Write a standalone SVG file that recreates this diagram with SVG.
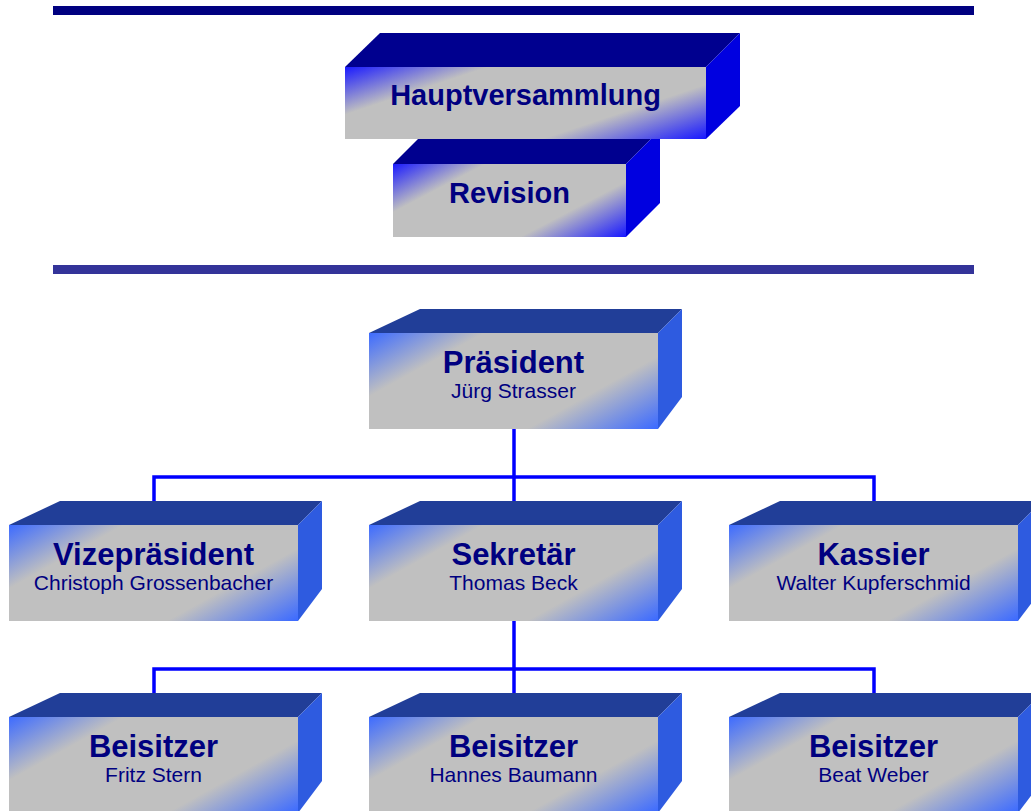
<svg xmlns="http://www.w3.org/2000/svg" width="1031" height="811" viewBox="0 0 1031 811">
<defs>
<linearGradient id="gTop" x1="0" y1="0" x2="1.17" y2="0.7">
<stop offset="0" stop-color="#1a1aff"/>
<stop offset="0.25" stop-color="#c0c0c0"/>
<stop offset="0.72" stop-color="#c0c0c0"/>
<stop offset="1" stop-color="#1a1aff"/>
</linearGradient>
<linearGradient id="gLow" x1="0" y1="0" x2="1.17" y2="0.7">
<stop offset="0" stop-color="#3d6bff"/>
<stop offset="0.25" stop-color="#c0c0c0"/>
<stop offset="0.72" stop-color="#c0c0c0"/>
<stop offset="1" stop-color="#3d6bff"/>
</linearGradient>
<style>
.ttop{fill:#00008f}
.rtop{fill:#0000e0}
.ftop{fill:url(#gTop)}
.tlow{fill:#213e98}
.rlow{fill:#2e5be0}
.flow{fill:url(#gLow)}
.title{font-family:"Liberation Sans",Arial,sans-serif;font-weight:bold;fill:#000080;text-anchor:middle}
.t1{font-size:29px}
.t2{font-size:31px}
.sub{font-family:"Liberation Sans",Arial,sans-serif;font-size:21px;fill:#000080;text-anchor:middle}
.conn{fill:none;stroke:#0000ff;stroke-width:3.5;stroke-linejoin:miter}
</style>
</defs>
<rect width="1031" height="811" fill="#ffffff"/>
<rect x="53" y="6" width="921" height="9" fill="#000080"/>
<rect x="53" y="265" width="921" height="9" fill="#333399"/>

<g id="connectors">
<polyline class="conn" points="514,429 514,501"/>
<polyline class="conn" points="154,501 154,477 874,477 874,501"/>
<polyline class="conn" points="514,621 514,693"/>
<polyline class="conn" points="154,693 154,669 874,669 874,693"/>
</g>

<g id="revision">
<polygon class="ttop" points="393,164 427,130 660,130 626,164"/>
<polygon class="rtop" points="626,164 660,130 660,203 626,237"/>
<rect class="ftop" x="393" y="164" width="233" height="73"/>
<text class="title t1" x="509.5" y="203">Revision</text>
</g>

<g id="hauptversammlung">
<polygon class="ttop" points="345,67 380,33 740,33 706,67"/>
<polygon class="rtop" points="706,67 740,33 740,106 706,139"/>
<rect class="ftop" x="345" y="67" width="361" height="72"/>
<text class="title t1" x="525.5" y="105">Hauptversammlung</text>
</g>

<g id="praesident">
<polygon class="tlow" points="369,333 420,309 682,309 658,333"/>
<polygon class="rlow" points="658,333 682,309 682,397 658,429"/>
<rect class="flow" x="369" y="333" width="289" height="96"/>
<text class="title t2" x="513.5" y="373">Präsident</text>
<text class="sub" x="513.5" y="398">Jürg Strasser</text>
</g>

<g id="vizepraesident">
<polygon class="tlow" points="9,525 60,501 322,501 298,525"/>
<polygon class="rlow" points="298,525 322,501 322,589 298,621"/>
<rect class="flow" x="9" y="525" width="289" height="96"/>
<text class="title t2" x="153.5" y="565">Vizepräsident</text>
<text class="sub" x="153.5" y="590">Christoph Grossenbacher</text>
</g>

<g id="sekretaer">
<polygon class="tlow" points="369,525 420,501 682,501 658,525"/>
<polygon class="rlow" points="658,525 682,501 682,589 658,621"/>
<rect class="flow" x="369" y="525" width="289" height="96"/>
<text class="title t2" x="513.5" y="565">Sekretär</text>
<text class="sub" x="513.5" y="590">Thomas Beck</text>
</g>

<g id="kassier">
<polygon class="tlow" points="729,525 780,501 1042,501 1018,525"/>
<polygon class="rlow" points="1018,525 1042,501 1042,589 1018,621"/>
<rect class="flow" x="729" y="525" width="289" height="96"/>
<text class="title t2" x="873.5" y="565">Kassier</text>
<text class="sub" x="873.5" y="590">Walter Kupferschmid</text>
</g>

<g id="beisitzer1">
<polygon class="tlow" points="9,717 60,693 322,693 298,717"/>
<polygon class="rlow" points="298,717 322,693 322,781 298,813"/>
<rect class="flow" x="9" y="717" width="289" height="96"/>
<text class="title t2" x="153.5" y="757">Beisitzer</text>
<text class="sub" x="153.5" y="782">Fritz Stern</text>
</g>

<g id="beisitzer2">
<polygon class="tlow" points="369,717 420,693 682,693 658,717"/>
<polygon class="rlow" points="658,717 682,693 682,781 658,813"/>
<rect class="flow" x="369" y="717" width="289" height="96"/>
<text class="title t2" x="513.5" y="757">Beisitzer</text>
<text class="sub" x="513.5" y="782">Hannes Baumann</text>
</g>

<g id="beisitzer3">
<polygon class="tlow" points="729,717 780,693 1042,693 1018,717"/>
<polygon class="rlow" points="1018,717 1042,693 1042,781 1018,813"/>
<rect class="flow" x="729" y="717" width="289" height="96"/>
<text class="title t2" x="873.5" y="757">Beisitzer</text>
<text class="sub" x="873.5" y="782">Beat Weber</text>
</g>
</svg>
